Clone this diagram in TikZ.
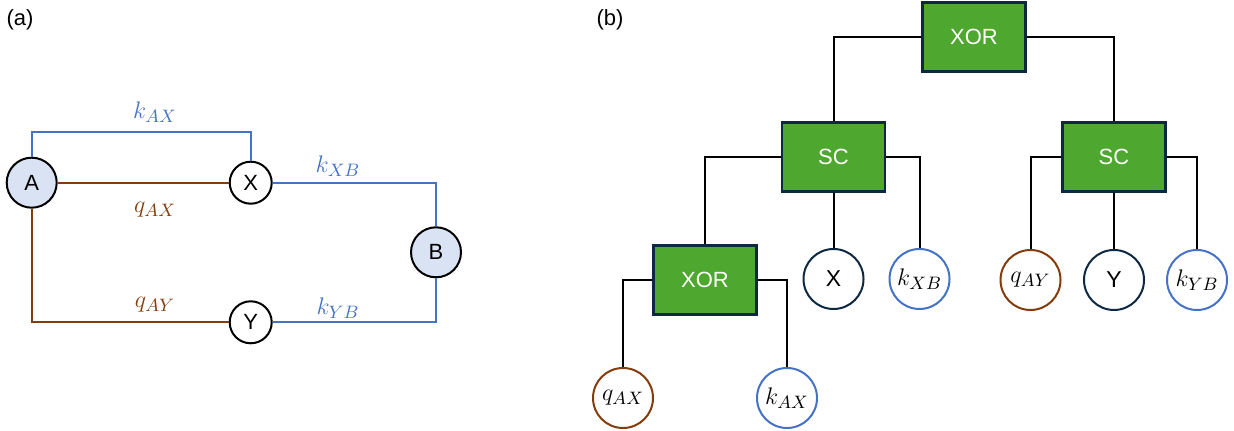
\documentclass[tikz,border=0pt]{standalone}
\usepackage{fontspec}
\setmainfont{Liberation Sans}
\usepackage{xcolor}
\usepackage{tikz}
\usetikzlibrary{positioning}
\definecolor{kblue}{RGB}{68,114,196}
\definecolor{qbrown}{RGB}{132,60,12}
\definecolor{pale}{RGB}{218,227,243}
\definecolor{gate}{RGB}{78,167,46}
\definecolor{navy}{RGB}{14,40,65}

\begin{document}
\begin{tikzpicture}[
  x=0.5pt, y=-0.5pt,
  every node/.style={font=\fontsize{11}{13}\selectfont},
  party/.style={draw, circle, line width=1pt, fill=pale, minimum size=25pt, inner sep=0pt},
  relay/.style={draw, circle, line width=1pt, fill=white, minimum size=21pt, inner sep=0pt},
  leaf/.style={draw=navy, circle, line width=1pt, minimum size=30pt, inner sep=0pt,
    font=\fontsize{13}{15}\selectfont},
  relayleaf/.style={leaf, font=\fontsize{11.5}{13}\selectfont},
  gatebox/.style={draw=navy, line width=1.2pt, fill=gate, text=white,
    minimum width=51.5pt, minimum height=34.5pt},
  lbl/.style={font=\fontsize{13}{15}\selectfont},
  kline/.style={draw=kblue, line width=1pt},
  qline/.style={draw=qbrown, line width=1pt},
  wire/.style={draw, line width=1pt}
]
\useasboundingbox (0,0) rectangle (1234,431);

% (a) network
\node (tagA) at (20,20) {(a)};
\node[party] (A) at (31.7,182.7) {A};
\node[relay] (X) at (250.7,182.7) {X};
\node[party] (B) at (436,252.3) {B};
\node[relay] (Y) at (250.7,322.3) {Y};
\coordinate (ktop) at (31.7,131.7);

\draw[kline] (A.north) -- (ktop) -| (X.north);
\draw[qline] (A) -- (X);
\draw[kline] (X) -| (B);
\draw[qline] (A) |- (Y);
\draw[kline] (Y) -| (B);

\node[lbl, text=kblue] (lkAX) at (155,112) {$k_{AX}$};
\node[lbl, text=qbrown] (lqAX) at (155,210) {$q_{AX}$};
\node[lbl, text=kblue] (lkXB) at (338,166) {$k_{XB}$};
\node[lbl, text=qbrown] (lqAY) at (155,305) {$q_{AY}$};
\node[lbl, text=kblue] (lkYB) at (338,308) {$k_{YB}$};

% (b) circuit tree
\node (tagB) at (610,20) {(b)};
\node[gatebox] (xtop) at (974,37) {XOR};
\node[gatebox] (scl) at (833.5,157) {SC};
\node[gatebox] (scr) at (1114,157) {SC};
\node[gatebox] (xlow) at (705,280) {XOR};

\node[relayleaf] (x2) at (833.5,279) {X};
\node[leaf, draw=kblue] (kxb) at (919.5,279) {$k_{XB}$};
\node[leaf, draw=qbrown] (qay) at (1030.5,280) {$q_{AY}$};
\node[relayleaf] (y2) at (1114,280) {Y};
\node[leaf, draw=kblue] (kyb) at (1197,280) {$k_{YB}$};
\node[leaf, draw=qbrown] (qax) at (623,398) {$q_{AX}$};
\node[leaf, draw=kblue] (kax) at (787,398) {$k_{AX}$};

\draw[wire] (xtop) -| (scl);
\draw[wire] (xtop) -| (scr);
\draw[wire] (scl) -| (xlow);
\draw[wire] (scl) -- (x2);
\draw[wire] (scl) -| (kxb);
\draw[wire] (scr) -| (qay);
\draw[wire] (scr) -- (y2);
\draw[wire] (scr) -| (kyb);
\draw[wire] (xlow) -| (qax);
\draw[wire] (xlow) -| (kax);
\end{tikzpicture}
\end{document}
